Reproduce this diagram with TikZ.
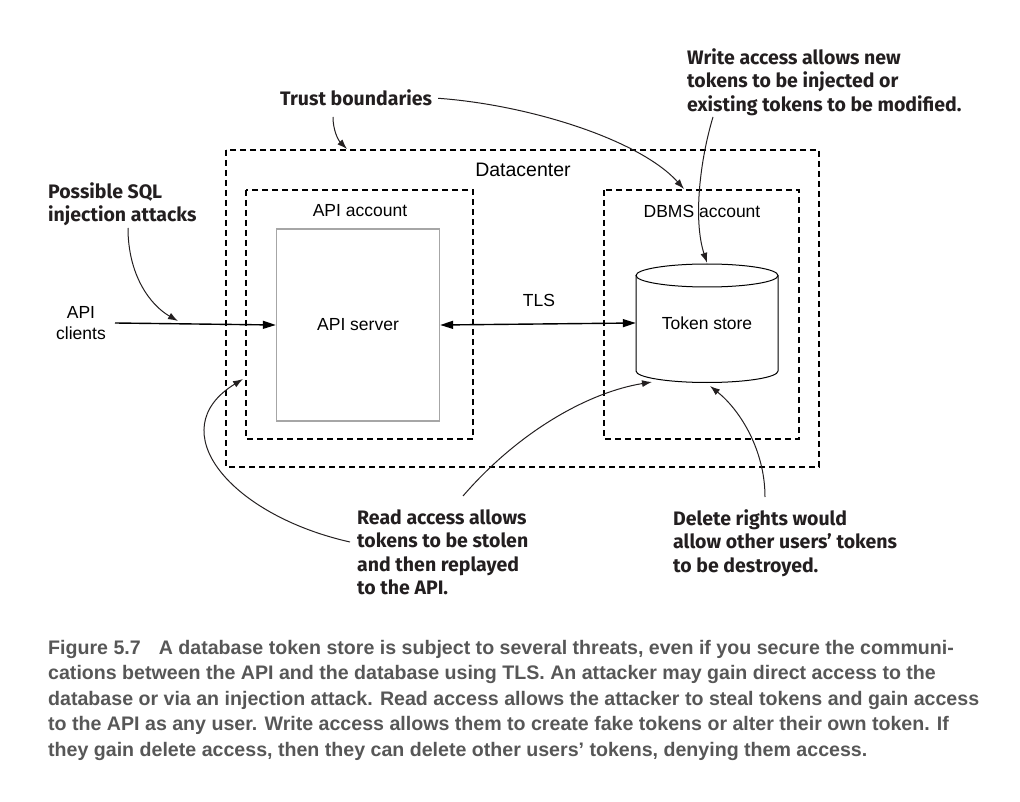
\documentclass[tikz,border=0pt]{standalone}
\usepackage{fontspec}
\usetikzlibrary{arrows.meta}
\setmainfont{Liberation Sans}
\newfontfamily\notefont{Fira Sans}
\newfontfamily\capfont{Liberation Sans}
\definecolor{notecol}{HTML}{231F20}
\definecolor{capcol}{HTML}{575757}
\definecolor{boxcol}{HTML}{A6A6A6}

\tikzset{
  zone/.style={draw, dash pattern=on 6pt off 4pt, line width=1.4pt, inner sep=0pt},
  lbl/.style={font=\fontsize{17.5}{21}\selectfont, inner sep=0pt},
  note/.style={align=left, anchor=north west, inner sep=0pt, text=notecol,
    font=\notefont\bfseries\fontsize{19.5}{23.5}\selectfont},
  link/.style={line width=1.4pt},
  hint/.style={-{Latex[length=10pt,width=7pt]}, line width=1pt, draw=notecol},
}

\begin{document}
\begin{tikzpicture}[x=1pt,y=-1pt]
  \useasboundingbox (0,0) rectangle (1020,802);

  % trust boundaries
  \draw [zone] (226,150) rectangle (819,467);
  \draw [zone] (246,190) rectangle (473,439);
  \draw [zone] (604,190) rectangle (799,439);
  \coordinate (dcTop) at (347,149);
  \coordinate (dbTop) at (684,189);
  \coordinate (dcLeft) at (243,379);

  \node [lbl, font=\fontsize{19.5}{23}\selectfont] (dc) at (523,170) {Datacenter};
  \node [lbl] (apiacc) at (360,211) {API account};
  \node [lbl] (dbacc) at (702,211) {DBMS account};

  % components
  \node [draw=boxcol, line width=1.4pt, minimum width=163pt, minimum height=192pt,
    lbl] (srv) at (358,325) {API server};
  \node [minimum width=142pt, minimum height=120pt, lbl] (ts) at (707,323) {Token store};
  \draw [line width=1pt] (707,275.5) ellipse [x radius=71, y radius=11.5];
  \draw [line width=1pt] (636,275.5) -- (636,371)
    arc [start angle=180, end angle=0, x radius=71, y radius=11.5] -- (778,275.5);
  \node [lbl, align=center, inner xsep=9pt] (cli) at (81,323) {API\\clients};
  \node [lbl] (tls) at (539,300) {TLS};

  \draw [link, -{Triangle[length=13pt,width=8pt]}] (cli.east) -- (srv.west);
  \draw [link, {Triangle[length=13pt,width=8pt]}-{Triangle[length=13pt,width=8pt]}]
    (srv.east) -- (ts.west);

  % annotations
  \node [note] (sql) at (48,182) {Possible SQL\\injection attacks};
  \node [note] (trust) at (280,89) {Trust boundaries};
  \node [note] (write) at (687,48) {Write access allows new\\tokens to be injected or\\existing tokens to be modified.};
  \node [note] (read) at (357,509) {Read access allows\\tokens to be stolen\\and then replayed\\to the API.};
  \node [note] (del) at (673,509) {Delete rights would\\allow other users’ tokens\\to be destroyed.};

  \coordinate (sqlTip) at (178,321);
  \coordinate (readA) at (350,542);
  \coordinate (readB) at (463,496);
  \coordinate (delA) at (765,497);
  \coordinate (tsLeft) at (652,382);
  \coordinate (tsBot) at (710,386);

  \draw [hint] (128,228) .. controls (128,275) and (150,305) .. (sqlTip);
  \draw [hint] (333,117) .. controls (333,130) and (338,140) .. (dcTop);
  \draw [hint] (trust.east) ++(6,1) .. controls (530,105) and (640,140) .. (dbTop);
  \draw [hint] (713,117) .. controls (700,160) and (693,220) .. (ts.north);
  \draw [hint] (readA) .. controls (230,515) and (160,430) .. (dcLeft);
  \draw [hint] (readB) .. controls (520,430) and (590,392) .. (tsLeft);
  \draw [hint] (delA) .. controls (765,450) and (740,410) .. (tsBot);

  % caption
  \node [anchor=north west, inner sep=0pt, align=left, text=capcol,
    font=\capfont\bfseries\fontsize{19.6}{25.5}\selectfont] (cap) at (48,640)
    {Figure 5.7\hspace{18pt}A database token store is subject to several threats, even if you secure the communi-\\
     cations between the API and the database using TLS. An attacker may gain direct access to the\\
     database or via an injection attack. Read access allows the attacker to steal tokens and gain access\\
     to the API as any user. Write access allows them to create fake tokens or alter their own token. If\\
     they gain delete access, then they can delete other users’ tokens, denying them access.};
\end{tikzpicture}
\end{document}
